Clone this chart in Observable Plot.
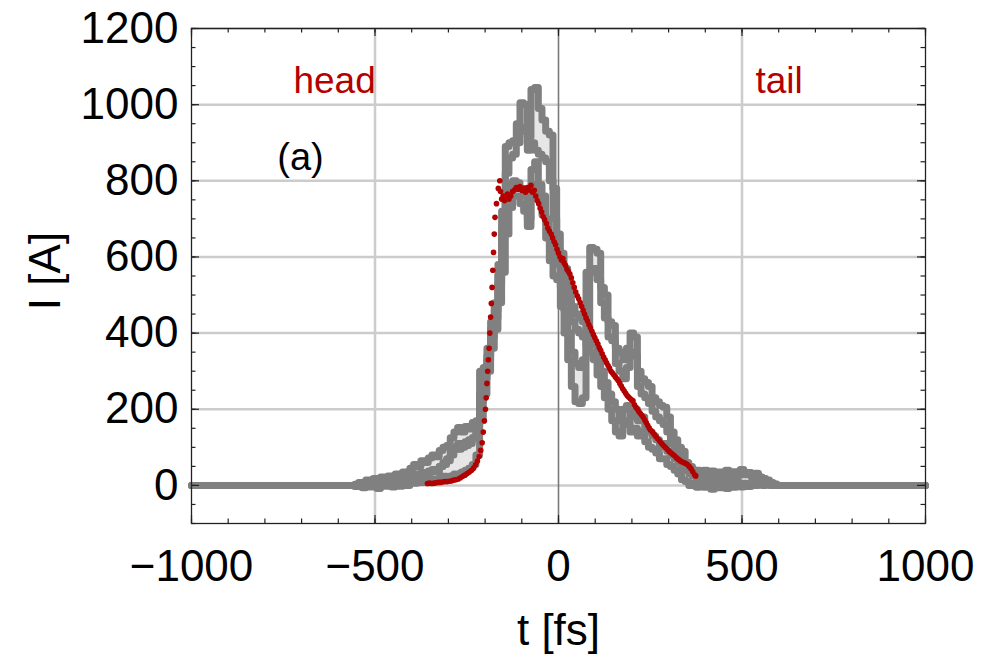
<!DOCTYPE html>
<html><head><meta charset="utf-8">
<script src="https://cdn.jsdelivr.net/npm/d3@7"></script>
<script src="https://cdn.jsdelivr.net/npm/@observablehq/plot@0.6"></script>
<style>body{margin:0;background:#fff;}</style>
</head><body><div id="chart"></div>
<script>
// time grid [fs]
const t = [-1000,
 -560,-550,-540,-530,-520,-510,-500,-490,-480,-470,-460,-450,-440,-430,-420,-410,-400,-390,-380,-370,-360,-350,-340,-330,-320,-310,
 -300,-290,-280,-270,-260,-250,-240,-230,-220,-210,-200,-190,-180,-170,-160,
 -150,-140,-130,-120,-110,-100,-90,-80,-70,-60,-50,-40,-30,-20,-10,
 0,10,20,30,40,50,60,70,80,90,100,110,120,130,140,
 150,160,170,180,190,200,210,220,230,240,250,260,270,280,290,300,310,320,330,340,350,360,370,380,390,400,
 410,420,430,440,450,460,470,480,490,500,510,520,530,540,550,560,570,580,590,600,
 1000];
// measurement 1, upper / lower band edge [A]
const p1Hi = [0,
 0,3,8,5,14,10,18,12,22,16,25,20,30,24,35,28,45,55,50,65,60,72,80,75,92,100,
 105,125,140,152,140,155,148,165,170,300,310,360,430,480,580,
 720,890,900,905,950,1005,1000,915,1040,1045,990,960,930,920,780,
 660,610,570,520,470,450,440,430,410,390,370,330,300,270,240,
 220,200,170,200,210,180,200,170,180,150,140,130,120,100,110,90,80,70,60,40,45,30,35,40,28,35,
 30,38,25,35,30,40,28,36,32,42,30,34,26,32,22,18,14,8,4,0,
 0];
const p1Lo = [0,
 0,-2,2,-4,5,0,6,-3,8,2,10,4,12,6,15,8,18,22,20,28,26,34,40,36,50,60,
 65,80,95,110,100,115,110,125,140,220,280,330,390,440,530,
 660,820,860,870,900,940,930,880,900,880,870,860,850,800,700,
 620,570,530,480,430,410,400,390,370,350,330,290,260,230,200,
 170,140,130,160,170,140,150,130,140,115,100,95,85,70,70,55,50,40,30,15,10,0,5,-5,0,-5,
 0,-10,5,-6,2,-8,4,-5,6,-4,5,-3,2,0,3,0,2,0,0,0,
 0];
// measurement 2, upper / lower band edge [A]
const p2Hi = [0,
 0,1,5,2,9,4,12,6,15,9,18,12,20,15,24,18,26,30,25,34,30,38,42,36,50,55,
 70,90,100,95,110,105,120,125,150,240,290,340,410,460,550,
 680,760,790,800,795,780,760,700,830,850,790,760,700,640,600,
 580,520,460,400,350,320,310,330,560,625,620,610,520,500,430,
 420,360,350,330,360,400,390,300,280,270,260,230,220,210,205,180,140,120,100,90,60,50,40,35,30,40,
 25,30,20,28,22,30,24,32,26,35,28,30,22,25,18,15,10,6,3,0,
 0];
const p2Lo = [0,
 0,-3,0,-6,2,-4,3,-8,4,-2,5,-4,6,-2,8,0,10,6,12,8,10,14,16,12,20,24,
 20,25,30,28,35,40,45,55,80,170,240,300,360,410,480,
 560,660,730,760,760,740,720,680,780,790,750,710,650,590,550,
 540,470,400,330,260,220,215,230,400,560,570,540,480,440,390,
 380,320,300,280,310,350,340,260,240,230,215,195,180,170,160,140,110,90,75,60,45,35,25,18,12,20,
 10,2,12,0,8,-2,10,0,8,-3,6,2,5,3,4,2,3,1,0,0,
 0];
// simulation (red dots)
const redT = [-357,-351,-345,-339,-333,-327,-321,-315,-309,-303,-297,-291,-285,-279,-273,-267,-261,-255,-249,-243,-237,-231,-226,-221,-216,-212,-208,-205,-202,-199,-197,-195,-193,-191,-189,-187,-185,-183,-181,-179,-177,-175,-173,-169,-164,-160,-158,-155,-151,-147,-143,-139,-135,-130,-125,-120,-115,-110,-105,-100,-95,-90,-85,-80,-75,-71,-66,-62,-58,-54,-50,-46,-42,-38,-33,-29,-25,-20,-16,-12,-8,-4,0,4,8,12,15,19,23,27,31,35,39,43,47,51,55,59,63,67,71,75,79,83,87,91,95,99,103,107,111,115,119,123,127,131,135,139,143,147,151,155,159,163,167,171,175,179,183,187,191,195,199,203,207,211,215,219,223,227,231,235,239,243,247,251,256,261,266,271,276,281,286,291,296,301,306,311,316,321,326,331,336,341,346,351,356,361,366,371,374];
const redI = [5,6,5,6,7,8,8,9,10,10,11,12,14,15,17,20,24,27,31,35,40,46,54,64,76,92,112,140,170,200,230,268,300,330,360,400,442,478,520,565,612,660,704,740,780,800,772,752,760,748,758,765,752,760,772,776,782,778,785,775,780,770,782,776,788,770,775,760,748,740,728,718,706,698,688,676,668,660,650,640,632,620,610,600,592,596,585,578,568,562,555,545,532,520,508,498,490,480,470,460,450,440,432,422,414,405,396,388,380,372,362,355,346,337,330,322,315,308,300,295,290,285,280,275,268,261,254,248,242,236,232,228,225,222,212,205,200,194,189,184,179,172,165,158,151,145,140,134,128,122,116,110,105,100,95,90,86,82,78,73,69,65,62,60,58,55,50,44,36,28,25];
// ticks and grid
const xLabels = [-1000,-500,0,500,1000];
const yLabels = [0,200,400,600,800,1000,1200];
const xMinor = [-1000,-900,-800,-700,-600,-500,-400,-300,-200,-100,0,100,200,300,400,500,600,700,800,900,1000];
const xMajor = [-1000,-500,0,500,1000];
const yMinor = [-100,-50,0,50,100,150,200,250,300,350,400,450,500,550,600,650,700,750,800,850,900,950,1000,1050,1100,1150,1200];
const yMajor = [0,200,400,600,800,1000,1200];
const yGrid = [0,200,400,600,800,1000,1200];
const xGrid = [-500,500];

const W = 994, H = 663, ML = 191, MR = 69, MT = 28, MB = 140;
const FW = W - ML - MR, FH = H - MT - MB;
const rows = t.map((x, i) => ({t: x, a: p1Hi[i], b: p1Lo[i], c: p2Hi[i], d: p2Lo[i]}));
const red = redT.map((x, i) => ({t: x, I: redI[i]}));
const RED = "#b30000", GRAY = "#808080", FILL = "#e6e6e6", INK = "#222";

const tickMarks = (vals, len) => [
  Plot.tickX(vals, {x: d => d, stroke: INK, strokeWidth: 1.2, insetTop: FH - len}),
  Plot.tickX(vals, {x: d => d, stroke: INK, strokeWidth: 1.2, insetBottom: FH - len})
];
const tickMarksY = (vals, len) => [
  Plot.tickY(vals, {y: d => d, stroke: INK, strokeWidth: 1.2, insetRight: FW - len}),
  Plot.tickY(vals, {y: d => d, stroke: INK, strokeWidth: 1.2, insetLeft: FW - len})
];

const chart = Plot.plot({
  width: W, height: H,
  marginLeft: ML, marginRight: MR, marginTop: MT, marginBottom: MB,
  x: {domain: [-1000, 1000]},
  y: {domain: [-100, 1200]},
  style: {fontFamily: "'Liberation Sans', Arial, sans-serif", background: "#fff", color: "#000"},
  marks: [
    Plot.ruleY(yGrid, {stroke: "#cccccc", strokeWidth: 2.5}),
    Plot.ruleX(xGrid, {stroke: "#cccccc", strokeWidth: 2.5}),
    Plot.ruleX([0], {stroke: "#7a7a7a", strokeWidth: 1.6}),
    Plot.areaY(rows, {x: "t", y1: "b", y2: "a", fill: FILL, curve: "step"}),
    Plot.areaY(rows, {x: "t", y1: "d", y2: "c", fill: FILL, curve: "step"}),
    ...["a", "b", "c", "d"].map(k => Plot.line(rows, {x: "t", y: k, stroke: GRAY, strokeWidth: 7, curve: "step"})),
    Plot.dot(red, {x: "t", y: "I", r: 2.8, fill: RED}),
    Plot.frame({stroke: INK, strokeWidth: 1.3}),
    ...tickMarks(xMinor, 4.5),
    ...tickMarks(xMajor, 8),
    ...tickMarksY(yMinor, 4.5),
    ...tickMarksY(yMajor, 8),
    Plot.axisX(xLabels, {tickSize: 0, tickPadding: 26, fontSize: 44, label: null, tickFormat: "d"}),
    Plot.axisY(yLabels, {tickSize: 0, tickPadding: 13, fontSize: 44, label: null, tickFormat: "d"}),
    Plot.text(["I [A]"], {frameAnchor: "left", dx: -146, dy: -5, rotate: -90, textAnchor: "middle", lineAnchor: "middle", fontSize: 44}),
    Plot.text(["t [fs]"], {frameAnchor: "bottom", dy: 107, textAnchor: "middle", lineAnchor: "middle", fontSize: 44}),
    Plot.text(["head"], {x: -498, y: 1063, textAnchor: "end", fill: RED, fontSize: 37}),
    Plot.text(["tail"], {x: 601, y: 1063, fill: RED, fontSize: 37}),
    Plot.text(["(a)"], {x: -703, y: 861, fill: "#000", fontSize: 38})
  ]
});
document.getElementById("chart").append(chart);
</script>
</body></html>
